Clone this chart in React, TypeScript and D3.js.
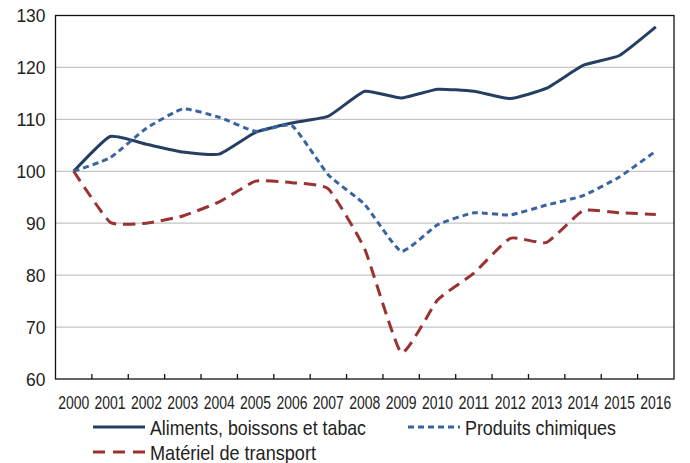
import React, { useEffect, useRef } from "react";
import * as d3 from "d3";

const years = ["2000", "2001", "2002", "2003", "2004", "2005", "2006", "2007", "2008", "2009", "2010", "2011", "2012", "2013", "2014", "2015", "2016"];
const aliments = [100, 106.7, 105.2, 103.7, 103.3, 107.5, 109.3, 110.6, 115.4, 114.1, 115.8, 115.4, 114.0, 116.0, 120.4, 122.3, 127.8];
const chimiques = [100, 102.6, 108.3, 112.0, 110.4, 107.7, 108.8, 99.3, 93.6, 84.6, 89.7, 92.0, 91.6, 93.5, 95.3, 98.9, 103.9];
const transport = [100, 90.2, 90.0, 91.4, 94.1, 98.1, 97.8, 96.6, 85.0, 65.1, 75.2, 80.4, 87.1, 86.3, 92.4, 92.0, 91.7];
const yTicks = [60, 70, 80, 90, 100, 110, 120, 130];

const series = [
    { name: "Aliments, boissons et tabac", values: aliments, color: "#243f62", dash: "", legendDash: "", textW: 216 },
    { name: "Produits chimiques", values: chimiques, color: "#3a64a0", dash: "6,4", legendDash: "6,4", textW: 151 },
    { name: "Matériel de transport", values: transport, color: "#9b3232", dash: "12,7", legendDash: "12,8", textW: 166 },
];

const App: React.FC = () => {
    const ref: any = useRef(null);

    useEffect(() => {
        const width = 690;
        const height = 463;
        const margin = { top: 15.5, right: 16, bottom: 84, left: 55.5 };
        const svg = d3.select(ref.current);
        svg.selectAll("*").remove();

        const x = d3.scaleBand().domain(years).range([margin.left, width - margin.right]);
        const y = d3.scaleLinear().domain([60, 130]).range([height - margin.bottom, margin.top]);

        // grid
        svg.append("g")
            .selectAll("line")
            .data(yTicks.filter(t => t > 60 && t < 130))
            .join("line")
            .attr("x1", margin.left)
            .attr("x2", width - margin.right)
            .attr("y1", d => y(d))
            .attr("y2", d => y(d))
            .attr("stroke", "#c4c4c4")
            .attr("stroke-width", 1.2);

        // frame
        svg.append("rect")
            .attr("x", margin.left)
            .attr("y", margin.top)
            .attr("width", width - margin.right - margin.left)
            .attr("height", height - margin.bottom - margin.top)
            .attr("fill", "none")
            .attr("stroke", "#111")
            .attr("stroke-width", 1.3);

        // x ticks at band boundaries, pointing inward
        svg.append("g")
            .selectAll("line")
            .data(years.slice(1))
            .join("line")
            .attr("x1", d => x(d)!)
            .attr("x2", d => x(d)!)
            .attr("y1", y(60))
            .attr("y2", y(60) - 5)
            .attr("stroke", "#111")
            .attr("stroke-width", 1.3);

        svg.append("g")
            .selectAll("text")
            .data(years)
            .join("text")
            .attr("x", d => x(d)! + x.bandwidth() / 2)
            .attr("y", y(60) + 30)
            .attr("text-anchor", "middle")
            .attr("font-family", "'Liberation Sans', Arial, sans-serif")
            .attr("font-size", 17.5)
            .attr("textLength", 31)
            .attr("lengthAdjust", "spacingAndGlyphs")
            .attr("fill", "#222")
            .text(d => d);

        svg.append("g")
            .selectAll("text")
            .data(yTicks)
            .join("text")
            .attr("x", margin.left - 10)
            .attr("y", d => y(d) + 6.5)
            .attr("text-anchor", "end")
            .attr("font-family", "'Liberation Sans', Arial, sans-serif")
            .attr("font-size", 18.5)
            .attr("textLength", d => String(d).length * 9.7)
            .attr("lengthAdjust", "spacingAndGlyphs")
            .attr("fill", "#222")
            .text(d => d);

        const line = d3.line<number>()
            .x((_, i) => x(years[i])! + x.bandwidth() / 2)
            .y(d => y(d))
            .curve(d3.curveCardinal.tension(0.55));

        series.forEach(s => {
            svg.append("path")
                .datum(s.values)
                .attr("fill", "none")
                .attr("stroke", s.color)
                .attr("stroke-width", 3)
                .attr("stroke-dasharray", s.dash)
                .attr("d", line);
        });

        // legend
        const legendPos = [
            { x: 93, y: 427 },
            { x: 408, y: 427 },
            { x: 93, y: 452 },
        ];
        series.forEach((s, i) => {
            const p = legendPos[i];
            const g = svg.append("g").attr("transform", `translate(${p.x},${p.y})`);
            g.append("line")
                .attr("x1", 0)
                .attr("x2", 52)
                .attr("stroke", s.color)
                .attr("stroke-width", 3)
                .attr("stroke-dasharray", s.legendDash);
            g.append("text")
                .attr("x", 57)
                .attr("y", 7.5)
                .attr("font-family", "'Liberation Sans', Arial, sans-serif")
                .attr("font-size", 21)
                .attr("textLength", s.textW)
                .attr("lengthAdjust", "spacingAndGlyphs")
                .attr("fill", "#222")
                .text(s.name);
        });
    }, []);

    return (
        <svg ref={ref} width={690} height={463}
            style={{ position: "absolute", top: 0, left: 0, background: "#fff" }} />
    );
};

export default App;
